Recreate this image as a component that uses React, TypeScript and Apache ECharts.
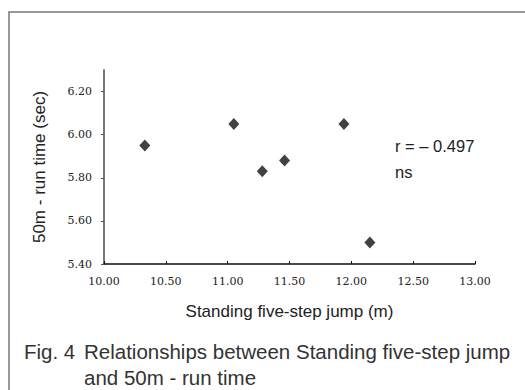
import React, { useEffect, useRef } from "react";
import * as echarts from "echarts";

const jumpValues = [10.33, 11.05, 11.28, 11.46, 11.94, 12.15];
const runTimes = [5.95, 6.05, 5.83, 5.88, 6.05, 5.5];
const xAxisName = "Standing five-step jump (m)";
const yAxisName = "50m - run time (sec)";
const annotation = ["r = – 0.497", "ns"];
const captionLabel = "Fig. 4";
const caption = ["Relationships between Standing five-step jump", "and 50m - run time"];

export default function App() {
  const ref = useRef<HTMLDivElement>(null);
  useEffect(() => {
    if (!ref.current) return;
    const chart = echarts.init(ref.current, null, { renderer: "svg" });
    const data = jumpValues.map((x, i) => [x, runTimes[i]]);
    const sans = "'Liberation Sans', Arial, sans-serif";
    const serif = "'DejaVu Serif', serif";
    chart.setOption({
      animation: false,
      backgroundColor: "#fff",
      grid: { left: 104, top: 70, right: 50, bottom: 126, containLabel: false },
      xAxis: {
        type: "value",
        min: 10,
        max: 13,
        interval: 0.5,
        axisLine: { show: true, onZero: false, lineStyle: { color: "#111", width: 1.5 } },
        axisTick: { show: true, inside: true, length: 3, lineStyle: { color: "#111" } },
        splitLine: { show: false },
        axisLabel: {
          color: "#222",
          fontFamily: serif,
          fontSize: 11,
          margin: 12,
          formatter: (v: number) => v.toFixed(2),
        },
        name: xAxisName,
        nameLocation: "middle",
        nameGap: 39,
        nameTextStyle: { color: "#222", fontFamily: sans, fontSize: 17 },
      },
      yAxis: {
        type: "value",
        min: 5.4,
        max: 6.3,
        interval: 0.2,
        axisLine: { show: true, onZero: false, lineStyle: { color: "#777", width: 2 } },
        axisTick: { show: true, inside: false, length: 3, lineStyle: { color: "#555" } },
        splitLine: { show: false },
        axisLabel: {
          color: "#222",
          fontFamily: serif,
          fontSize: 11,
          margin: 12,
          showMaxLabel: false,
          formatter: (v: number) => v.toFixed(2),
        },
        name: yAxisName,
        nameLocation: "middle",
        nameGap: 56,
        nameRotate: 90,
        nameTextStyle: { color: "#222", fontFamily: sans, fontSize: 17 },
      },
      series: [
        {
          type: "scatter",
          data,
          symbol: "diamond",
          symbolSize: [11, 12],
          itemStyle: { color: "#111" },
        },
      ],
      graphic: [
        {
          type: "rect",
          shape: { x: 9, y: 12, width: 530, height: 400 },
          style: { fill: "none", stroke: "#777", lineWidth: 1.5 },
          silent: true,
        },
        {
          type: "text",
          left: 395,
          top: 137,
          style: { text: annotation[0], fill: "#222", font: `16.5px ${sans}` },
        },
        {
          type: "text",
          left: 395,
          top: 163,
          style: { text: annotation[1], fill: "#222", font: `16.5px ${sans}` },
        },
        {
          type: "text",
          left: 24,
          top: 341,
          style: { text: captionLabel, fill: "#333", font: `20.5px ${sans}` },
        },
        {
          type: "text",
          left: 84,
          top: 341,
          style: { text: caption[0], fill: "#333", font: `20.5px ${sans}` },
        },
        {
          type: "text",
          left: 84,
          top: 367,
          style: { text: caption[1], fill: "#333", font: `20.5px ${sans}` },
        },
      ],
    });
    return () => chart.dispose();
  }, []);
  return <div ref={ref} style={{ width: 525, height: 390, position: "fixed", left: 0, top: 0 }} />;
}
